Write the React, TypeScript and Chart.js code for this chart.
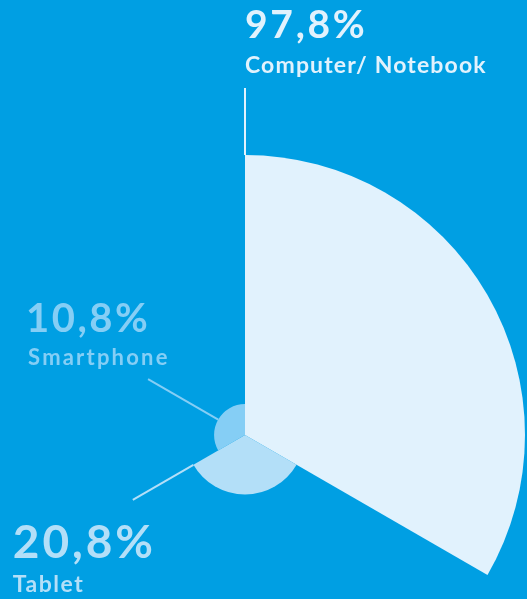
import React, { useEffect, useRef } from "react";
import { Chart, registerables } from "chart.js";

Chart.register(...registerables);

const categories = ["Computer/ Notebook", "Tablet", "Smartphone"];
const shares = [97.8, 20.8, 10.8];
const maxShare = 97.8;

const BG = "#009fe3";
const sliceColors = ["#e1f2fd", "#b3dff8", "#85cef5"];

// how each label is attached to its slice (layout only)
const labelLayout = [
  { anchor: "start", len: 67, numDx: 0, numDy: -50, labDx: 0, labDy: -15, numSize: 39, labSize: 23, labSp: 1.15, numSp: 2.7 },
  { anchor: "end", len: 70, numDx: -120, numDy: 58, labDx: -120, labDy: 92, numSize: 46, labSize: 23, labSp: 1.5, numSp: 2.9 },
  { anchor: "mid", len: 81, numDx: -122, numDy: -47, labDx: -120, labDy: -14, numSize: 40, labSize: 22, labSp: 2.2, numSp: 2.5 },
];

const fmt = (v: number) => v.toFixed(1).replace(".", ",") + "%";

const labelPlugin = {
  id: "leaderLabels",
  afterDatasetsDraw(chart: any) {
    const meta = chart.getDatasetMeta(0);
    const ctx = chart.ctx;
    meta.data.forEach((arc: any, i: number) => {
      const p = arc.getProps(["x", "y", "startAngle", "endAngle", "outerRadius"], true);
      const L = labelLayout[i];
      const a =
        L.anchor === "start" ? p.startAngle : L.anchor === "end" ? p.endAngle : (p.startAngle + p.endAngle) / 2;
      const cx = Math.cos(a);
      const cy = Math.sin(a);
      const x0 = p.x + cx * p.outerRadius;
      const y0 = p.y + cy * p.outerRadius;
      const x1 = p.x + cx * (p.outerRadius + L.len);
      const y1 = p.y + cy * (p.outerRadius + L.len);
      const col = sliceColors[i];
      ctx.save();
      ctx.strokeStyle = col;
      ctx.lineWidth = 2;
      ctx.beginPath();
      ctx.moveTo(x0, y0);
      ctx.lineTo(x1, y1);
      ctx.stroke();
      ctx.fillStyle = col;
      ctx.textAlign = "left";
      ctx.textBaseline = "alphabetic";
      (ctx as any).letterSpacing = `${L.numSp}px`;
      ctx.font = `700 ${L.numSize}px Lato`;
      ctx.fillText(fmt(shares[i]), x1 + L.numDx, y1 + L.numDy);
      (ctx as any).letterSpacing = `${L.labSp}px`;
      ctx.font = `700 ${L.labSize}px Lato`;
      ctx.fillText(categories[i], x1 + L.labDx, y1 + L.labDy);
      ctx.restore();
    });
  },
};

export default function App() {
  const ref = useRef<HTMLCanvasElement>(null);
  useEffect(() => {
    if (!ref.current) return;
    const chart = new Chart(ref.current, {
      type: "polarArea",
      data: {
        labels: categories,
        datasets: [
          {
            data: shares,
            backgroundColor: sliceColors,
            borderWidth: 0,
            clip: false as any,
          },
        ],
      },
      options: {
        responsive: false,
        animation: false,
        layout: { padding: { top: 155, left: 0, right: 2, bottom: 0 } },
        plugins: { legend: { display: false }, tooltip: { enabled: false } },
        scales: {
          r: { display: false, min: 0, max: maxShare },
        },
      },
      plugins: [labelPlugin],
    });
    return () => chart.destroy();
  }, []);
  return (
    <div
      style={{
        position: "fixed",
        left: 0,
        top: 0,
        width: 527,
        height: 599,
        overflow: "hidden",
        background: BG,
      }}
    >
      <canvas
        ref={ref}
        width={562}
        height={715}
        style={{ position: "absolute", left: -35, top: 0, width: 562, height: 715 }}
      />
    </div>
  );
}
